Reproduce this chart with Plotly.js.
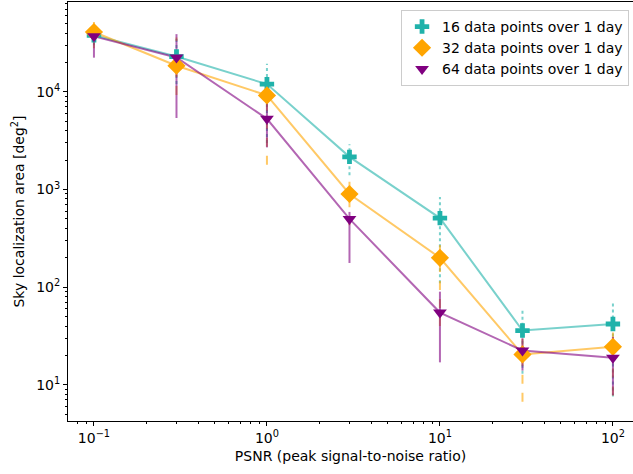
<!DOCTYPE html>
<html>
<head>
<meta charset="utf-8">
<script src="https://cdn.plot.ly/plotly-3.0.1.min.js"></script>
<style>html,body{margin:0;padding:0;background:#fff;}#chart{width:633px;height:474px;}</style>
</head>
<body>
<div id="chart"></div>
<script>
// PSNR values (x)
const psnr = [0.1, 0.3, 1, 3, 10, 30, 100];

// 16 data points over 1 day
const area16 = [38000, 23000, 12000, 2160, 510, 36, 42];
const lo16   = [30000, 12000, 3000, 1400, 110, 13, 7.6];
const hi16   = [48000, 36000, 19400, 2900, 840, 60, 69];

// 32 data points over 1 day
const area32 = [41000, 18500, 9200, 900, 200, 20.5, 24.5];
const lo32   = [28000, 9300, 1790, 430, 40, 6.7, 7.8];
const hi32   = [52000, 36000, 14000, 1200, 330, 33, 42];

// 64 data points over 1 day
const area64 = [37000, 22500, 5300, 500, 55, 22.5, 19];
const lo64   = [22400, 5400, 2700, 177, 17, 14, 7.8];
const hi64   = [47000, 39000, 11000, 590, 90, 30, 31];

const names = ['16 data points over 1 day', '32 data points over 1 day', '64 data points over 1 day'];
const yTickVals = [10, 100, 1000, 10000];
const yTickText = ['10<sup>1</sup>', '10<sup>2</sup>', '10<sup>3</sup>', '10<sup>4</sup>'];
const xTickVals = [0.1, 1, 10, 100];
const xTickText = ['10<sup>\u22121</sup>', '10<sup>0</sup>', '10<sup>1</sup>', '10<sup>2</sup>'];

const series = [
  {y: area16, lo: lo16, hi: hi16, name: names[0], color: '#20b2aa', line: 'rgba(32,178,170,0.6)', dash: 'dot', symbol: 'cross', size: 12},
  {y: area32, lo: lo32, hi: hi32, name: names[1], color: '#ffa500', line: 'rgba(255,165,0,0.6)', dash: 'dash', symbol: 'diamond', size: 14},
  {y: area64, lo: lo64, hi: hi64, name: names[2], color: '#800080', line: 'rgba(128,0,128,0.6)', dash: 'solid', symbol: 'triangle-down', size: 12}
];

const traces = [];
series.forEach(s => {
  traces.push({x: psnr, y: s.y, mode: 'lines', line: {color: s.line, width: 2}, showlegend: false, hoverinfo: 'skip'});
});
series.forEach(s => {
  const ex = [], ey = [];
  psnr.forEach((xv, i) => { ex.push(xv, xv, null); ey.push(s.lo[i], s.hi[i], null); });
  traces.push({x: ex, y: ey, mode: 'lines', line: {color: s.line, width: 2, dash: s.dash}, showlegend: false, hoverinfo: 'skip'});
});
series.forEach(s => {
  traces.push({x: psnr, y: s.y, mode: 'markers', name: s.name,
    marker: {color: s.color, symbol: s.symbol, size: s.size, line: {width: 0}}});
});

function minorVals(a, b) {
  const v = [];
  for (let e = a; e <= b; e++) for (let m = 2; m <= 9; m++) v.push(m * Math.pow(10, e));
  return v;
}

const font = {family: 'DejaVu Sans, sans-serif', size: 14, color: '#000'};
const axisCommon = {
  type: 'log', showgrid: false, zeroline: false,
  showline: true, linecolor: '#000', linewidth: 1,
  ticks: 'outside', ticklen: 4, tickwidth: 1, tickcolor: '#000',
  tickmode: 'array', tickfont: {family: 'DejaVu Sans, sans-serif', size: 14, color: '#000'}
};

const layout = {
  width: 633, height: 474,
  margin: {l: 68, r: 0, t: 2, b: 53},
  paper_bgcolor: '#fff', plot_bgcolor: '#fff',
  font: font,
  showlegend: true,
  xaxis: Object.assign({}, axisCommon, {
    range: [-1.15, 2.116], mirror: true,
    tickvals: xTickVals, ticktext: xTickText,
    minor: {ticks: 'outside', ticklen: 2, tickwidth: 1, tickcolor: '#000', tickmode: 'array', tickvals: minorVals(-2, 2)},
    title: {text: 'PSNR (peak signal-to-noise ratio)', font: font, standoff: 6}
  }),
  yaxis: Object.assign({}, axisCommon, {
    range: [0.63, 4.92], mirror: false,
    tickvals: yTickVals, ticktext: yTickText,
    minor: {ticks: 'outside', ticklen: 2, tickwidth: 1, tickcolor: '#000', tickmode: 'array', tickvals: minorVals(0, 4)},
    title: {text: 'Sky localization area [deg<sup>2</sup>]', font: font, standoff: 8}
  }),
  legend: {
    x: 0.993, xanchor: 'right', y: 0.981, yanchor: 'top',
    bgcolor: 'rgba(255,255,255,0.8)', bordercolor: '#cccccc', borderwidth: 1,
    font: font, tracegroupgap: 0
  }
};

Plotly.newPlot('chart', traces, layout, {displayModeBar: false, staticPlot: true});
</script>
</body>
</html>
